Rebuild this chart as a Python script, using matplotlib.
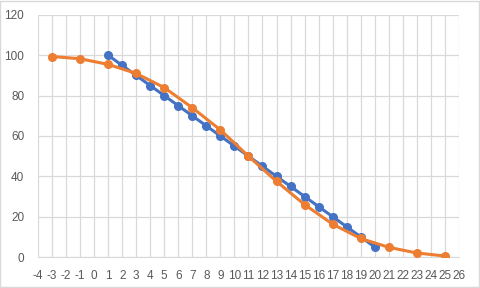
import matplotlib

matplotlib.use("Agg")
import matplotlib.pyplot as plt
from matplotlib.patches import Rectangle

# serie azul: queda linear
x_azul = list(range(1, 21))
y_azul = [100, 95, 90, 85, 80, 75, 70, 65, 60, 55,
          50, 45, 40, 35, 30, 25, 20, 15, 10, 5]

# serie laranja: curva em S
x_laranja = [-3, -1, 1, 3, 5, 7, 9, 11, 13, 15, 17, 19, 21, 23, 25]
y_laranja = [99.4, 98.3, 95.5, 91, 84, 74, 63, 50, 37.5, 26, 16.3, 9.2, 4.8, 2, 0.5]

x_ticks = list(range(-4, 27))
y_ticks = [0, 20, 40, 60, 80, 100, 120]

AZUL = "#4472C4"
LARANJA = "#ED7D31"
GRADE = "#D9D9D9"
TEXTO = "#595959"

plt.rcParams["font.family"] = ["Liberation Sans", "DejaVu Sans"]
plt.rcParams["axes.unicode_minus"] = False

fig = plt.figure(figsize=(4.8, 2.88), dpi=100)
ax = fig.add_axes([0.0792, 0.1076, 0.8768, 0.8404])

ax.plot(x_azul, y_azul, color=AZUL, lw=2.2, marker="o", ms=5.5, zorder=3)
ax.plot(x_laranja, y_laranja, color=LARANJA, lw=2.2, marker="o", ms=5.5, zorder=4)

ax.set_xlim(-4, 26)
ax.set_ylim(0, 120)
ax.set_xticks(x_ticks)
ax.set_yticks(y_ticks)
ax.grid(True, color=GRADE, lw=0.9)
ax.set_axisbelow(True)
for lado in ["top", "right", "left"]:
    ax.spines[lado].set_visible(False)
ax.spines["bottom"].set_color(GRADE)
ax.tick_params(length=0, labelsize=8.5, labelcolor=TEXTO)
ax.tick_params(axis="x", pad=9)
ax.tick_params(axis="y", pad=10)

# borda da area do grafico
fig.patches.append(Rectangle((0.001, 0.002), 0.997, 0.995, transform=fig.transFigure,
                             fill=False, edgecolor=GRADE, lw=1))

fig.savefig("out.png", dpi=100)
